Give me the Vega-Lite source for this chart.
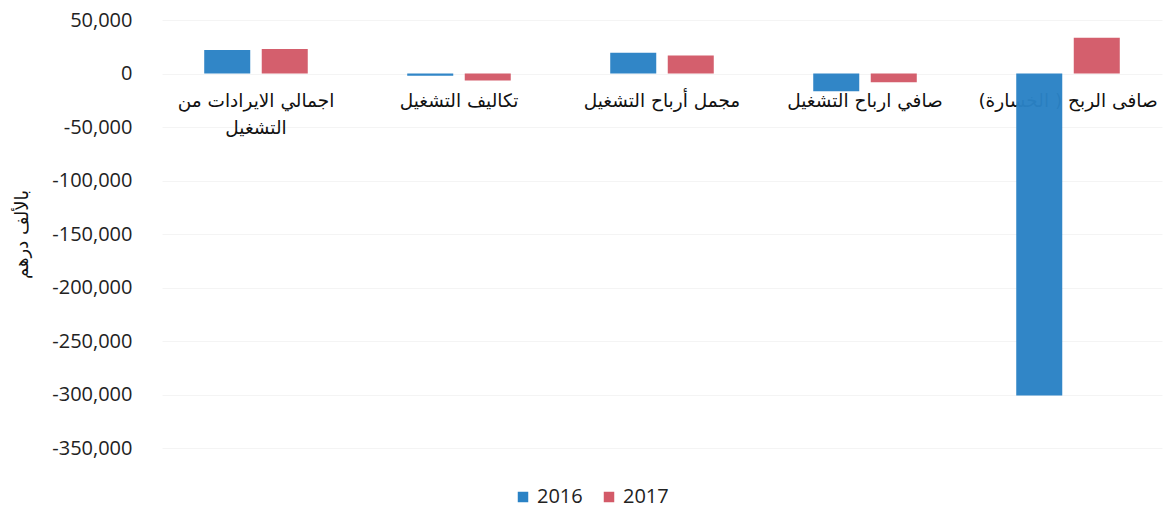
{
  "$schema": "https://vega.github.io/schema/vega-lite/v6.json",
  "width": 1000,
  "height": 428,
  "autosize": {"type": "none"},
  "padding": {"left": 162, "top": 20, "right": 4, "bottom": 65},
  "background": "white",
  "config": {"view": {"stroke": null}},
  "datasets": {
    "bars": [
      {"category": "اجمالي الايرادات من التشغيل", "year": "2016", "value": 22000},
      {"category": "اجمالي الايرادات من التشغيل", "year": "2017", "value": 23000},
      {"category": "تكاليف التشغيل", "year": "2016", "value": -2000},
      {"category": "تكاليف التشغيل", "year": "2017", "value": -6500},
      {"category": "مجمل أرباح التشغيل", "year": "2016", "value": 19300},
      {"category": "مجمل أرباح التشغيل", "year": "2017", "value": 16800},
      {"category": "صافي ارباح التشغيل", "year": "2016", "value": -16500},
      {"category": "صافي ارباح التشغيل", "year": "2017", "value": -8100},
      {"category": "صافى الربح ( الخسارة)", "year": "2016", "value": -301000},
      {"category": "صافى الربح ( الخسارة)", "year": "2017", "value": 33400}
    ],
    "labels": [
      {"category": "اجمالي الايرادات من التشغيل", "label": "اجمالي الايرادات من\nالتشغيل"},
      {"category": "تكاليف التشغيل", "label": "تكاليف التشغيل"},
      {"category": "مجمل أرباح التشغيل", "label": "مجمل أرباح التشغيل"},
      {"category": "صافي ارباح التشغيل", "label": "صافي ارباح التشغيل"},
      {"category": "صافى الربح ( الخسارة)", "label": "صافى الربح ( الخسارة)"}
    ]
  },
  "layer": [
    {
      "data": {"name": "labels"},
      "mark": {"type": "text", "lineBreak": "\n", "baseline": "top", "dy": 18, "font": "DejaVu Sans", "fontSize": 18.5, "color": "#111", "lineHeight": 27},
      "encoding": {
        "x": {"field": "category", "type": "nominal", "sort": ["اجمالي الايرادات من التشغيل", "تكاليف التشغيل", "مجمل أرباح التشغيل", "صافي ارباح التشغيل", "صافى الربح ( الخسارة)"], "scale": {"paddingInner": 0.49, "paddingOuter": 0.208}, "axis": null},
        "y": {"datum": 0, "type": "quantitative"},
        "text": {"field": "label", "type": "nominal"}
      }
    },
    {
      "data": {"name": "bars"},
      "mark": {"type": "bar", "opacity": 0.97},
      "encoding": {
        "x": {"field": "category", "type": "nominal", "sort": ["اجمالي الايرادات من التشغيل", "تكاليف التشغيل", "مجمل أرباح التشغيل", "صافي ارباح التشغيل", "صافى الربح ( الخسارة)"], "scale": {"paddingInner": 0.49, "paddingOuter": 0.208}, "axis": null},
        "xOffset": {"field": "year", "type": "nominal", "scale": {"paddingInner": 0.2, "paddingOuter": 0}},
        "y": {
          "field": "value", "type": "quantitative",
          "scale": {"domain": [-350000, 50000], "nice": false},
          "axis": {
            "values": [50000, 0, -50000, -100000, -150000, -200000, -250000, -300000, -350000],
            "labelExpr": "replace(format(datum.value, ',.0f'), '−', '-')",
            "domain": false, "ticks": false,
            "labelPadding": 30, "labelFont": "Open Sans", "labelFontSize": 20, "labelColor": "#222",
            "grid": true, "gridColor": "#f4f4f4",
            "title": "بالألف درهم", "titleFont": "DejaVu Sans", "titleFontSize": 18, "titleFontWeight": "normal", "titleColor": "#111", "titlePadding": 20
          }
        },
        "color": {
          "field": "year", "type": "nominal",
          "scale": {"domain": ["2016", "2017"], "range": ["#2a82c5", "#d35a68"]},
          "legend": {
            "orient": "none", "legendX": 351, "legendY": 467, "direction": "horizontal", "title": null,
            "symbolType": "square", "symbolSize": 110, "symbolOpacity": 1,
            "labelFont": "Open Sans", "labelFontSize": 20, "labelColor": "#222", "columnPadding": 16, "labelOffset": 4
          }
        }
      }
    }
  ]
}
